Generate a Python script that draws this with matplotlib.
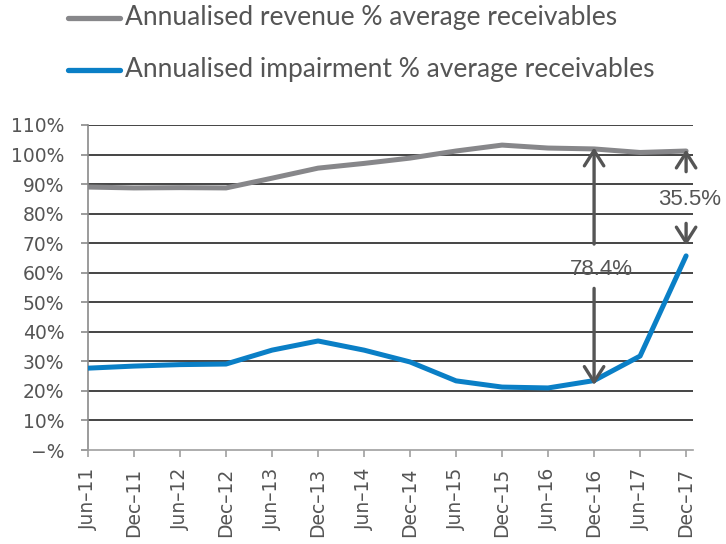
import numpy as np
import matplotlib.pyplot as plt

plt.rcParams['font.family'] = ['DejaVu Sans']

periods = ["Jun\u201311", "Dec\u201311", "Jun\u201312", "Dec\u201312", "Jun\u201313", "Dec\u201313", "Jun\u201314",
           "Dec\u201314", "Jun\u201315", "Dec\u201315", "Jun\u201316", "Dec\u201316", "Jun\u201317", "Dec\u201317"]
revenue = [89.0, 88.7, 88.8, 88.7, 92.0, 95.4, 97.0, 98.8, 101.2, 103.2, 102.2, 101.9, 100.7, 101.2]
impairment = [27.7, 28.4, 28.9, 29.1, 33.8, 36.9, 33.8, 29.8, 23.4, 21.3, 21.0, 23.5, 31.8, 65.7]
y_ticks = [0, 10, 20, 30, 40, 50, 60, 70, 80, 90, 100, 110]
y_labels = ["\u2212%"] + [f"{v}%" for v in y_ticks[1:]]

gray = "#87878a"
blue = "#0a7fc6"
dark = "#555555"

fig = plt.figure(figsize=(7.26, 5.44), dpi=100)
ax = fig.add_axes([88 / 726, 1 - 450 / 544, 605 / 726, 325 / 544])

x = np.arange(len(periods))
ax.plot(x, revenue, color=gray, lw=3.6, solid_capstyle="round", zorder=3)
ax.plot(x, impairment, color=blue, lw=3.6, solid_capstyle="round", zorder=3)

ax.set_xlim(0.0, 13.15)
ax.set_ylim(0, 110)
ax.set_yticks(y_ticks)
ax.set_yticklabels(y_labels)
ax.set_xticks(x)
ax.set_xticklabels(periods, rotation=90)
for v in y_ticks[1:]:
    ax.axhline(v, color="#444444", lw=1.4, zorder=1)

for s in ["top", "right"]:
    ax.spines[s].set_visible(False)
ax.spines["left"].set_color("#8a8a8a")
ax.spines["bottom"].set_color("#a0a0a0")
ax.spines["left"].set_linewidth(1.2)
ax.spines["bottom"].set_linewidth(1.2)
ax.tick_params(axis="y", colors="#8a8a8a", labelcolor=dark, labelsize=13.5, length=5, width=1.2, pad=12)
ax.tick_params(axis="x", colors="#a0a0a0", labelcolor=dark, labelsize=13.5, length=5, width=1.2, pad=8)

# gap annotations
i16 = 11
i17 = 13
gap16 = revenue[i16] - impairment[i16]
gap17 = revenue[i17] - impairment[i17]
aprops = dict(arrowstyle="->,head_length=1.1,head_width=0.7", color=dark, lw=2.4, shrinkA=0, shrinkB=0)
mid16 = (revenue[i16] + impairment[i16]) / 2
ax.annotate("", xy=(i16, revenue[i16] + 0.5), xytext=(i16, mid16 + 7), arrowprops=aprops, zorder=4)
ax.annotate("", xy=(i16, impairment[i16] - 1.5), xytext=(i16, mid16 - 8), arrowprops=aprops, zorder=4)
ax.text(i16 + 0.15, mid16 - 1.5, f"{gap16:.1f}%", ha="center", va="center", color=dark, fontsize=16,
        family="Liberation Sans", zorder=5)

mid17 = (revenue[i17] + impairment[i17]) / 2
ax.annotate("", xy=(i17, revenue[i17] + 0.5), xytext=(i17, revenue[i17] - 7), arrowprops=aprops, zorder=4)
ax.annotate("", xy=(i17, impairment[i17] + 3.5), xytext=(i17, impairment[i17] + 11), arrowprops=aprops, zorder=4)
ax.text(i17 - 0.6, mid17 + 1.5, f"{gap17:.1f}%", ha="left", va="center", color=dark, fontsize=16,
        family="Liberation Sans", zorder=5, clip_on=False)

# legend drawn at top
legend = [("Annualised revenue % average receivables", gray, 18),
          ("Annualised impairment % average receivables", blue, 70)]
for label, col, ypx in legend:
    yf = 1 - ypx / 544
    fig.add_artist(plt.Line2D([68 / 726, 120 / 726], [yf, yf], color=col, lw=3.8, solid_capstyle="round"))
    fig.text(125 / 726, yf, label, ha="left", va="center", color=dark, fontsize=19, family="Lato")

fig.savefig("out.png", dpi=100)
